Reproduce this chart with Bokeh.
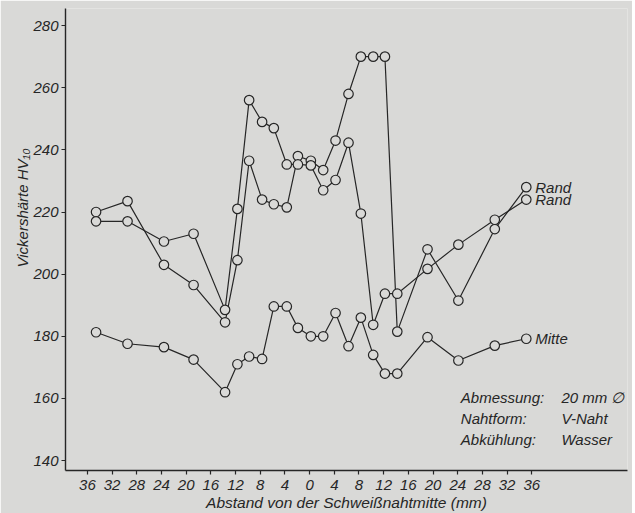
import math
from bokeh.plotting import figure
from bokeh.models import Range1d, Label, FixedTicker, Title
from bokeh.embed import file_html
from bokeh.resources import INLINE

# distance from weld centre (mm), negative = left side
positions = [-34.6, -29.5, -23.6, -18.8, -13.7, -11.7, -9.8, -7.7, -5.8, -3.7, -1.9,
             0.2, 2.2, 4.2, 6.3, 8.3, 10.3, 12.2, 14.2, 19.1, 24.1, 30.0, 35.1]
rand_a = [220, 223.5, 203, 196.5, 184.5, 204.5, 236.5, 224, 222.5, 221.5, 238,
          236.5, 233.5, 243, 258, 270, 270, 270, 181.5, 208, 191.5, 214.5, 228]
rand_b = [217, 217, 210.5, 213, 188.5, 221, 256, 249, 247, 235.3, 235.3,
          235, 227, 230.3, 242.3, 219.5, 183.7, 193.7, 193.7, 201.7, 209.5, 217.5, 224]
mitte = [181.3, 177.6, 176.5, 172.5, 162, 171, 173.5, 172.7, 189.6, 189.6, 182.7,
         180, 180, 187.5, 176.8, 186, 174, 168, 168, 179.7, 172.2, 177, 179.2]

x_ticks = list(range(-36, 37, 4))
x_tick_labels = [str(abs(t)) for t in x_ticks]
y_ticks = list(range(140, 281, 20))

series_labels = ["Rand", "Rand", "Mitte"]
info_keys = ["Abmessung:", "Nahtform:", "Abkühlung:"]
info_vals = ["20 mm \u2205", "V-Naht", "Wasser"]

BG = "#d9d9d7"
INK = "#262626"
FONT = "Liberation Sans"

p = figure(width=632, height=513, output_backend="svg", toolbar_location=None,
           x_range=Range1d(-39.55, 51.5), y_range=Range1d(136.8, 285.5),
           min_border_left=65, min_border_right=5, min_border_top=8,
           min_border_bottom=43)
p.background_fill_color = BG
p.border_fill_color = BG
p.outline_line_color = None
p.grid.visible = False

for ax in (p.xaxis, p.yaxis):
    ax.axis_line_color = INK
    ax.axis_line_width = 1.4
    ax.major_tick_line_color = INK
    ax.major_tick_line_width = 1.2
    ax.major_tick_in = 0
    ax.major_tick_out = 4
    ax.minor_tick_line_color = None
    ax.major_label_text_font = FONT
    ax.major_label_text_font_style = "italic"
    ax.major_label_text_font_size = "15px"
    ax.major_label_text_color = INK

p.xaxis.ticker = FixedTicker(ticks=x_ticks)
p.xaxis.major_label_overrides = dict(zip(x_ticks, x_tick_labels))
p.xaxis.major_label_standoff = 5
p.xaxis.axis_label = "Abstand von der Schweißnahtmitte (mm)"
p.xaxis.axis_label_standoff = 1
p.xaxis.axis_label_text_font = FONT
p.xaxis.axis_label_text_font_style = "italic"
p.xaxis.axis_label_text_font_size = "15.5px"
p.xaxis.axis_label_text_color = INK
p.yaxis.ticker = FixedTicker(ticks=y_ticks)
p.yaxis.major_label_standoff = 3

ytitle = Title(text="Vickershärte  HV\u2081\u2080", align="left", offset=203,
               text_font=FONT, text_font_style="italic", text_font_size="15px",
               text_color=INK, standoff=0)
p.add_layout(ytitle, "left")

for ys, lab in zip([rand_a, rand_b, mitte], series_labels):
    p.line(positions, ys, line_color=INK, line_width=1.2)
    p.scatter(positions, ys, size=9.5, fill_color=BG, line_color=INK, line_width=1.2)
    p.add_layout(Label(x=positions[-1], y=ys[-1], text=lab, x_offset=9,
                       text_baseline="middle", text_font=FONT,
                       text_font_style="italic", text_font_size="15px",
                       text_color=INK))

row_y = [160.3, 153.5, 146.8]
for ky, kv, yy in zip(info_keys, info_vals, row_y):
    p.add_layout(Label(x=24.5, y=yy, text=ky, text_baseline="middle", text_font=FONT,
                       text_font_style="italic", text_font_size="15px", text_color=INK))
    p.add_layout(Label(x=40.8, y=yy, text=kv, text_baseline="middle", text_font=FONT,
                       text_font_style="italic", text_font_size="15px", text_color=INK))

open("out.html", "w").write(file_html(p, INLINE))
